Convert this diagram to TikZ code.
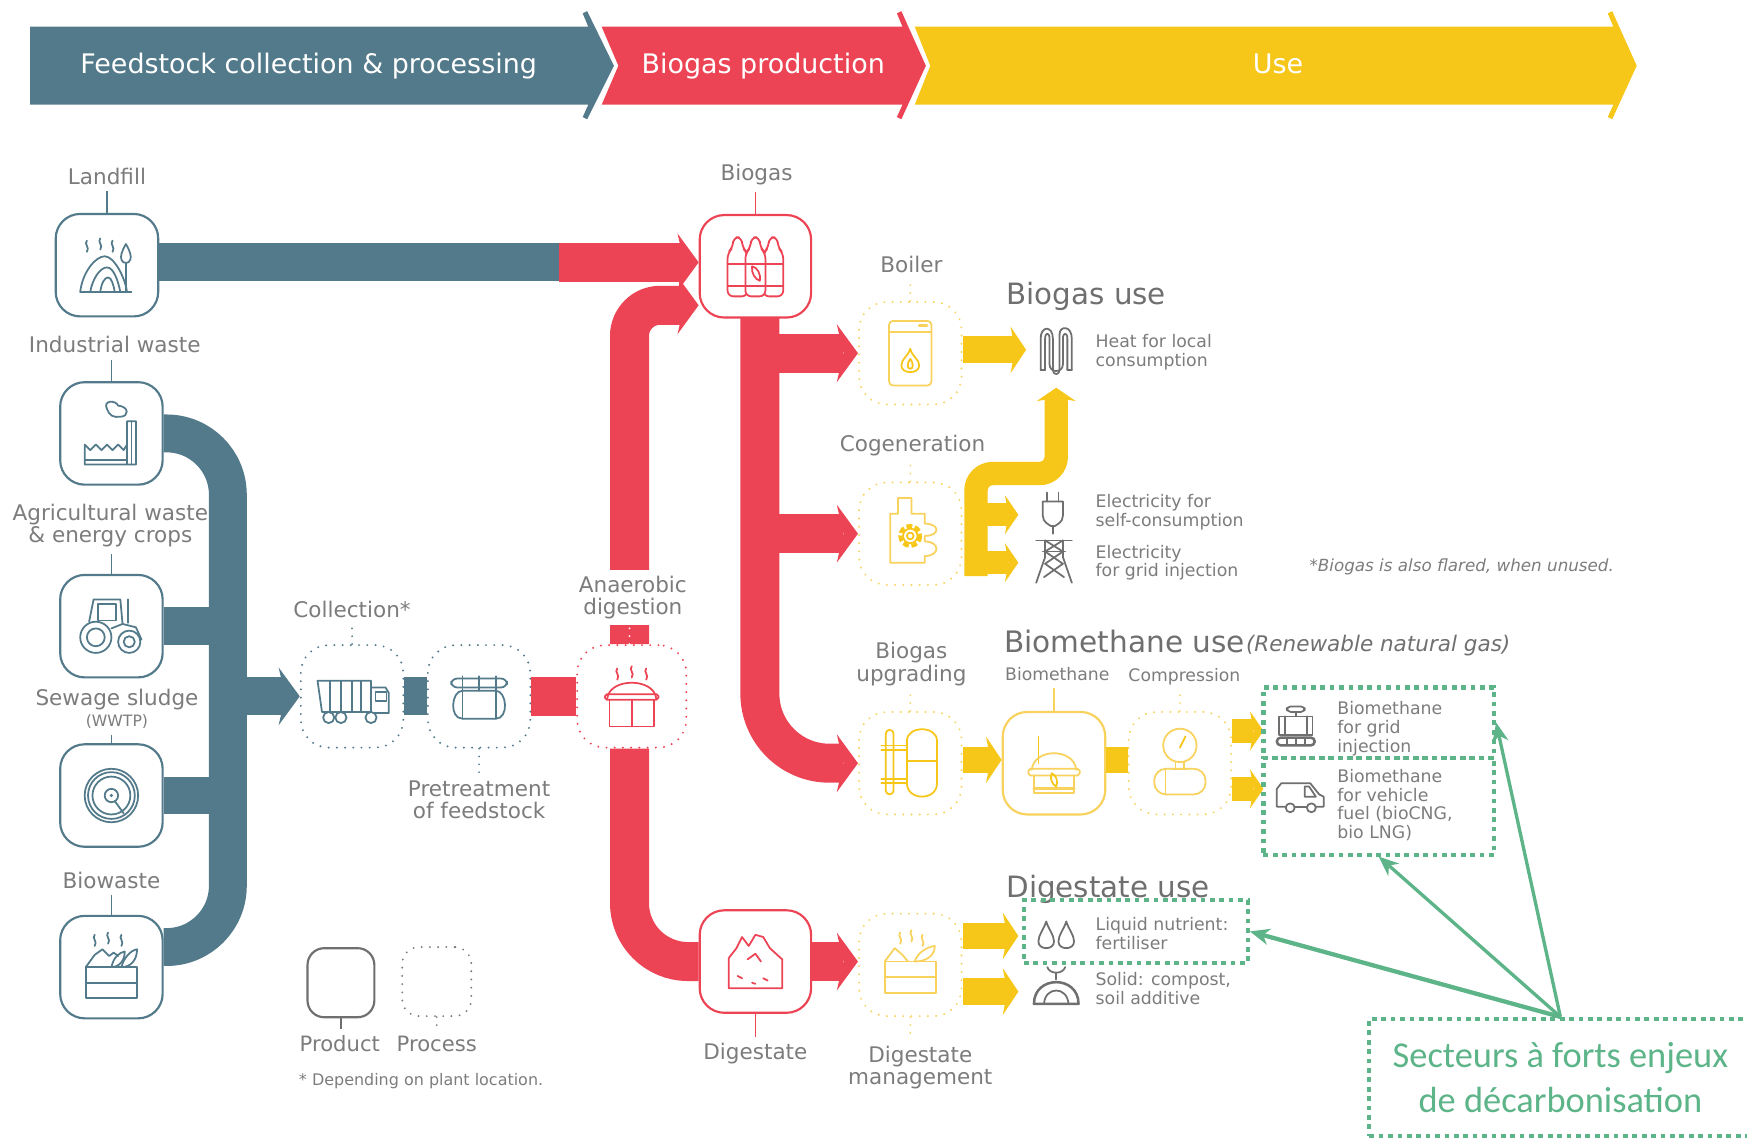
\documentclass[tikz,border=0pt]{standalone}
\usepackage{fontspec}
\setmainfont{DejaVu Sans}
\newfontfamily\targetfont{Carlito}
\usetikzlibrary{arrows.meta}
\definecolor{bandblue}{HTML}{537A8A}
\definecolor{bandred}{HTML}{EC4454}
\definecolor{bandyellow}{HTML}{F6C619}
\definecolor{softyellow}{HTML}{F8D25C}
\definecolor{labelgray}{HTML}{7C7C7C}
\definecolor{icongray}{HTML}{6F6F6F}
\definecolor{targetgreen}{HTML}{5CB488}
\tikzset{
	productbox/.style={draw=#1,fill=white,rounded corners=.44cm,inner sep=0pt,minimum width=1.84cm,minimum height=1.84cm,line width=1.1pt},
	processbox/.style={draw=#1,rounded corners=.5cm,inner sep=0pt,minimum width=1.84cm,minimum height=1.84cm,line width=1.1pt,dash pattern=on 0pt off 4.2pt,line cap=round},
	greenbox/.style={draw=targetgreen,inner sep=0pt,line width=2.1pt,dash pattern=on 2.4pt off 2.4pt},
	sidelabel/.style={labelgray,align=center,font=\fontsize{11}{11.4}\selectfont},
	smalllabel/.style={labelgray,align=center,font=\fontsize{8.8}{9.6}\selectfont},
	usetext/.style={labelgray,anchor=west,align=left,inner sep=0pt,font=\fontsize{8.85}{9.6}\selectfont},
	heading/.style={icongray,anchor=west,inner sep=0pt},
	bannertext/.style={white,font=\fontsize{13.75}{15}\selectfont},
	blueflow/.style={bandblue,line width=.68cm},
	redflow/.style={bandred,line width=.7cm},
	yellowflow/.style={bandyellow,line width=.48cm},
	thinflow/.style={bandyellow,line width=.42cm},
	bighead/.style={-{Stealth[length=.38cm,width=1.04cm,inset=.12cm,line width=0pt]}},
	midhead/.style={-{Stealth[length=.28cm,width=.84cm,inset=.08cm,line width=0pt]}},
	smallhead/.style={-{Stealth[length=.24cm,width=.7cm,inset=.06cm,line width=0pt]}},
	tickline/.style={#1,line width=.8pt},
	tickdots/.style={#1,line width=1pt,dash pattern=on 0pt off 4pt,line cap=round},
	greenarrow/.style={targetgreen,line width=1.7pt,-{Stealth[length=.36cm,width=.3cm,line width=0pt]}},
	iconline/.style={#1,line width=.9pt,line cap=round,line join=round}
}
\def\steam#1#2{\draw (#1,#2) .. controls (#1-3,#2+3) and (#1+3,#2+6) .. (#1,#2+10);}
\def\crate{\draw (-23,0) rectangle (23,28); \draw (-23,14) -- (23,14);}

\begin{document}
\begin{tikzpicture}[x=.02cm,y=-.02cm]
	\clip (0,0) rectangle (1568,1021.4);
	% Top banner
	\fill[bandblue] (27,24) -- (528,24) -- (523,12) -- (527,10) -- (551,59) -- (527,107) -- (523,105) -- (528,94) -- (27,94) -- cycle;
	\fill[bandred] (540,24) -- (810,24) -- (805,12) -- (809,10) -- (831,59) -- (809,107) -- (805,105) -- (810,94) -- (540,94) -- (555,59) -- cycle;
	\fill[bandyellow] (821,24) -- (1448,24) -- (1443,12) -- (1447,10) -- (1469,59) -- (1447,107) -- (1443,105) -- (1448,94) -- (821,94) -- (835,59) -- cycle;
	\node[bannertext] (feedstock) at (277,59) {Feedstock collection \& processing};
	\node[bannertext] (production) at (685,59) {Biogas production};
	\node[bannertext] (usebanner) at (1147,57) {Use};

	% Feedstock boxes
	\node[productbox=bandblue] (landfill) at (96,238) {};
	\node[productbox=bandblue] (industrial) at (100,389) {};
	\node[productbox=bandblue] (agri) at (100,562) {};
	\node[productbox=bandblue] (sewage) at (100,714) {};
	\node[productbox=bandblue] (biowaste) at (100,868) {};
	\node[processbox=bandblue] (collection) at (316,625) {};
	\node[processbox=bandblue] (pretreatment) at (430,625) {};
	\node[processbox=bandred,minimum width=1.96cm] (digestion) at (567,625) {};
	% Products and uses
	\node[productbox=bandred,minimum width=2cm] (biogas) at (678,239) {};
	\node[productbox=bandred,minimum width=2cm] (digestate) at (678,863) {};
	\node[processbox=softyellow] (boiler) at (817,317) {};
	\node[processbox=softyellow] (cogeneration) at (817,479) {};
	\node[processbox=softyellow] (upgrading) at (817,685) {};
	\node[productbox=softyellow] (biomethane) at (946,685) {};
	\node[processbox=softyellow] (compression) at (1059,685) {};
	\node[processbox=softyellow] (management) at (817,866) {};
	% Legend
	\node[productbox=icongray,minimum width=1.2cm,minimum height=1.24cm,rounded corners=.3cm] (productkey) at (306,882) {};
	\node[processbox=labelgray,minimum width=1.24cm,minimum height=1.24cm,rounded corners=.3cm] (processkey) at (392,881) {};

	% Free ends of the flows
	\coordinate (swap) at (502,235.5);
	\coordinate (bluetrunk) at (204.5,625);
	\coordinate (redtrunk) at (682,285);
	\coordinate (cogenbus) at (876,517);
	\coordinate (coilin) at (921,314);
	\coordinate (coilup) at (948,348);
	\coordinate (plugin) at (914,462);
	\coordinate (towerin) at (914,505);
	\coordinate (upgradeline) at (899,682);
	\coordinate (gridin) at (1134,656);
	\coordinate (vanin) at (1134,708);
	\coordinate (dropsin) at (914,840);
	\coordinate (bagin) at (914,890);

	% Blue flows
	\draw[blueflow] (landfill.east |- swap) -- (swap);
	\draw[blueflow,rounded corners=1.1cm] (industrial.east) -| (bluetrunk) |- ([yshift=.36cm]biowaste.east);
	\draw[blueflow] (agri.east) -- (agri.east -| bluetrunk);
	\draw[blueflow] (sewage.east) -- (sewage.east -| bluetrunk);
	\draw[blueflow,bighead] (bluetrunk) -- (collection.west);
	\draw[blueflow] (collection.east) -- (pretreatment.west);
	% Red flows
	\draw[redflow] (pretreatment.east) -- (digestion.west);
	\draw[redflow,bighead] (swap) -- (biogas.west |- swap);
	\draw[redflow,bighead,rounded corners=.55cm] ([xshift=-.04cm]digestion.north) |- ([yshift=-.7cm]biogas.west);
	\draw[redflow,rounded corners=1.05cm] ([xshift=-.04cm]digestion.south) |- (digestate.west);
	\draw[redflow,bighead,rounded corners=1.25cm] (redtrunk) |- (upgrading.west);
	\draw[redflow,bighead] (redtrunk |- boiler.west) -- (boiler.west);
	\draw[redflow,bighead] (redtrunk |- cogeneration.west) -- (cogeneration.west);
	\draw[redflow,bighead] (digestate.east) -- (management.west |- digestate.east);
	% Yellow flows
	\draw[yellowflow,midhead] (boiler.east |- coilin) -- (coilin);
	\draw[thinflow,smallhead,rounded corners=.3cm] (cogenbus) |- (coilup |- 0,425) -- (coilup);
	\draw[thinflow,smallhead] (cogenbus |- plugin) -- (plugin);
	\draw[thinflow,smallhead] (cogenbus |- towerin) -- (towerin);
	\draw[yellowflow,midhead] (upgrading.east |- upgradeline) -- (upgradeline);
	\draw[yellowflow] (biomethane.east |- upgradeline) -- (compression.west |- upgradeline);
	\draw[thinflow,smallhead] (compression.east |- gridin) -- (gridin);
	\draw[thinflow,smallhead] (compression.east |- vanin) -- (vanin);
	\draw[yellowflow,midhead] (management.east |- dropsin) -- (dropsin);
	\draw[yellowflow,midhead] (management.east |- bagin) -- (bagin);

	% Labels
	\node[sidelabel] (landfilllabel) at (96,158) {Landfill};
	\node[sidelabel] (industriallabel) at (103,309) {Industrial waste};
	\node[sidelabel] (agrilabel) at (99,472) {Agricultural waste\\\& energy crops};
	\node[sidelabel] (sewagelabel) at (105,636) {Sewage sludge\\[-.8pt]{\fontsize{8}{9}\selectfont (WWTP)}};
	\node[sidelabel] (biowastelabel) at (100,790) {Biowaste};
	\node[sidelabel] (collectionlabel) at (316,547) {Collection*};
	\node[sidelabel] (pretreatmentlabel) at (430,718) {Pretreatment\\of feedstock};
	\node[sidelabel,fill=white,inner sep=0pt,minimum height=.98cm] (digestionlabel) at (568,536.5) {Anaerobic\\digestion};
	\node[sidelabel] (biogaslabel) at (679,157) {Biogas};
	\node[sidelabel] (digestatelabel) at (678,946) {Digestate};
	\node[sidelabel] (boilerlabel) at (818,237) {Boiler};
	\node[sidelabel] (cogenerationlabel) at (819,400) {Cogeneration};
	\node[sidelabel] (upgradinglabel) at (818,596) {Biogas\\upgrading};
	\node[sidelabel] (managementlabel) at (826,958) {Digestate\\management};
	\node[smalllabel] (biomethanelabel) at (949,605) {Biomethane};
	\node[smalllabel] (compressionlabel) at (1063,607) {Compression};
	\node[sidelabel,font=\fontsize{10.8}{12}\selectfont] (productlabel) at (305,937) {Product};
	\node[sidelabel,font=\fontsize{10.8}{12}\selectfont] (processlabel) at (392,937) {Process};
	\node[labelgray,anchor=west,inner sep=0pt,font=\fontsize{8.15}{9}\selectfont] (plantnote) at (268,970) {* Depending on plant location.};
	\node[labelgray,anchor=west,inner sep=0pt,font=\fontsize{8.55}{10}\selectfont\itshape] (flarenote) at (1175,509) {*Biogas is also flared, when unused.};
	\node[heading,font=\fontsize{15}{16}\selectfont] (biogasuse) at (903,266) {Biogas use};
	\node[heading,font=\fontsize{15.1}{16}\selectfont] (biomethaneuse) at (901,576) {Biomethane use};
	\node[heading,font=\fontsize{11}{12}\selectfont\itshape] (renewable) at (1118,579) {(Renewable natural gas)};
	\node[heading,font=\fontsize{15}{16}\selectfont] (digestateuse) at (903,798) {Digestate use};
	\node[usetext] (heatuse) at (983,316) {Heat for local\\consumption};
	\node[usetext] (selfuse) at (983,460) {Electricity for\\self-consumption};
	\node[usetext] (griduse) at (983,505) {Electricity\\for grid injection};
	\node[usetext] (gridgas) at (1200,654) {Biomethane\\for grid\\injection};
	\node[usetext] (vehiclegas) at (1200,722.5) {Biomethane\\for vehicle\\fuel (bioCNG,\\bio LNG)};
	\node[usetext] (liquiduse) at (983,838) {Liquid nutrient:\\fertiliser};
	\node[usetext] (soliduse) at (983,887) {Solid: compost,\\soil additive};

	% Label ticks
	\draw[tickline=bandblue] (landfill.north) -- (landfill.north |- landfilllabel.south);
	\draw[tickline=bandblue] (industrial.north) -- (industrial.north |- industriallabel.south);
	\draw[tickline=bandblue] (agri.north) -- (agri.north |- agrilabel.south);
	\draw[tickline=bandblue] (sewage.north) -- (sewage.north |- sewagelabel.south);
	\draw[tickline=bandblue] (biowaste.north) -- (biowaste.north |- biowastelabel.south);
	\draw[tickline=bandred] (biogas.north) -- (biogas.north |- biogaslabel.south);
	\draw[tickline=bandred] (digestate.south) -- (digestate.south |- digestatelabel.north);
	\draw[tickline=softyellow] (biomethane.north) -- (biomethane.north |- biomethanelabel.south);
	\draw[tickline=icongray] (productkey.south) -- (productkey.south |- productlabel.north);
	\draw[tickdots=bandblue] (collection.north) -- (collection.north |- collectionlabel.south);
	\draw[tickdots=bandblue] (pretreatment.south) -- (pretreatment.south |- pretreatmentlabel.north);
	\draw[tickdots=white] ([xshift=-.04cm]digestion.north) -- ([xshift=-.04cm]digestion.north |- digestionlabel.south);
	\draw[tickdots=softyellow] (boiler.north) -- (boiler.north |- boilerlabel.south);
	\draw[tickdots=softyellow] (cogeneration.north) -- (cogeneration.north |- cogenerationlabel.south);
	\draw[tickdots=softyellow] (upgrading.north) -- (upgrading.north |- upgradinglabel.south);
	\draw[tickdots=softyellow] (compression.north) -- (compression.north |- compressionlabel.south);
	\draw[tickdots=softyellow] (management.south) -- (management.south |- managementlabel.north);
	\draw[tickdots=labelgray] (processkey.south) -- (processkey.south |- processlabel.north);

	% Landfill icon
	\begin{scope}[iconline=bandblue,shift={(96,238)}]
		\draw (-24,24) -- (22,24);
		\draw (-24,24) .. controls (-22,6) and (-10,-8) .. (-2,-8) .. controls (6,-8) and (16,10) .. (18,24);
		\draw (-15,24) .. controls (-13,12) and (-6,2) .. (0,2) .. controls (6,2) and (10,14) .. (12,24);
		\draw (-6,24) .. controls (-5,16) and (-2,11) .. (1,11) .. controls (4,11) and (6,18) .. (7,24);
		\draw (17,-19) .. controls (13,-12) and (12,-8) .. (13,-5) .. controls (14,-1) and (20,-1) .. (21,-5) .. controls (22,-8) and (21,-12) .. (17,-19);
		\draw (17,-2) -- (17,24);
		\steam{-18}{-22} \steam{-6}{-24} \steam{5}{-22}
	\end{scope}
	% Factory icon
	\begin{scope}[iconline=bandblue,shift={(100,389)}]
		\draw (-4,-22) .. controls (-8,-30) and (4,-30) .. (6,-25) .. controls (16,-24) and (16,-15) .. (8,-15) .. controls (2,-14) and (-2,-16) .. (-4,-22);
		\draw (14,28) -- (14,-11) -- (22,-11) -- (22,28) -- (-24,28) -- (-24,10) -- (-19,15) -- (-14,10) -- (-9,15) -- (-4,10) -- (1,15) -- (6,10) -- (11,15) -- (14,10);
		\draw (18,-11) -- (18,28);
		\draw (-24,24) -- (14,24);
	\end{scope}
	% Tractor icon
	\begin{scope}[iconline=bandblue,shift={(100,562)}]
		\draw (-14,10) circle (14); \draw (-14,10) circle (8);
		\draw (16,14) circle (10); \draw (16,14) circle (5);
		\draw (-20,-4) -- (-16,-24) -- (8,-24) -- (10,-2);
		\draw (-12,-20) -- (-12,-5) -- (4,-5) -- (4,-20) -- cycle;
		\draw (0,2) -- (10,-2) -- (22,1) -- (27,12);
		\draw (15,-24) -- (15,-3);
	\end{scope}
	% Sludge icon
	\begin{scope}[iconline=bandblue,shift={(100,714)}]
		\draw (0,0) circle (24); \draw (0,0) circle (21); \draw (0,0) circle (17);
		\draw (0,0) circle (6); \fill (0,0) circle (1.6);
		\draw (3,5) -- (11,16);
	\end{scope}
	% Biowaste icon
	\begin{scope}[iconline=bandblue,shift={(100,868)}]
		\draw (-23,0) -- (-15,-11) -- (-8,-16) -- (-2,-10) -- (2,-13) -- (6,-10);
		\draw (0,0) .. controls (2,-9) and (7,-13) .. (12,-14) .. controls (12,-6) and (7,0) .. (0,0);
		\draw (9,0) .. controls (11,-8) and (17,-15) .. (23,-16) .. controls (23,-7) and (18,0) .. (9,0);
		\steam{-15}{-29} \steam{-3}{-31} \steam{9}{-29}
		\crate
	\end{scope}
	% Truck icon
	\begin{scope}[iconline=bandblue,shift={(316,626)}]
		\draw (-31,-15) -- (17,-15) -- (17,13) -- (-27,13) -- cycle;
		\foreach \xline in {-20,-10,0,8} \draw (\xline,-15) -- (\xline,13);
		\draw (17,-9) -- (30,-9) -- (33,-4) -- (33,14) -- (17,14);
		\draw (21,-5) -- (31,-5) -- (31,3) -- (21,3) -- cycle;
		\draw[fill=white] (-21,18) circle (5); \draw[fill=white] (-10,18) circle (5); \draw[fill=white] (17,18) circle (5);
	\end{scope}
	% Pretreatment tank icon
	\begin{scope}[iconline=bandblue,shift={(430,626)}]
		\draw[rounded corners=3pt] (-25,-17) rectangle (25,-9);
		\foreach \xline in {-15,0,15} \draw (\xline,-19) -- (\xline,-6);
		\draw (-15,-6) -- (15,-6) .. controls (25,-6) and (27,19) .. (15,19) -- (-15,19) .. controls (-27,19) and (-25,-6) .. (-15,-6);
		\draw (-15,-6) -- (-15,19); \draw (15,-6) -- (15,19);
	\end{scope}
	% Digester icon
	\begin{scope}[iconline=bandred,shift={(567,624)}]
		\draw (-22,3) .. controls (-20,-16) and (20,-16) .. (22,3);
		\draw[rounded corners=1pt] (-24,-1) rectangle (24,4);
		\draw (-20,4) -- (-20,28) -- (20,28) -- (20,4);
		\draw (0,4) -- (0,28);
		\steam{-13}{-24} \steam{0}{-26} \steam{13}{-24}
	\end{scope}
	% Gas bottles icon
	\begin{scope}[iconline=bandred,shift={(678,239)}]
		\foreach \xbottle in {-16,16,0}
			{\draw[fill=white,rounded corners=3pt] (\xbottle-9,-12) -- (\xbottle-4,-17) -- (\xbottle-4,-26) -- (\xbottle+4,-26) -- (\xbottle+4,-17) -- (\xbottle+9,-12) -- (\xbottle+9,27) -- (\xbottle-9,27) -- cycle;
			\draw (\xbottle-9,-2) -- (\xbottle+9,-2); \draw (\xbottle-9,18) -- (\xbottle+9,18);}
		\draw (-3,0) .. controls (-4,6) and (0,12) .. (4,13) .. controls (5,7) and (2,1) .. (-3,0);
	\end{scope}
	% Boiler icon
	\begin{scope}[iconline=softyellow,shift={(817,317)}]
		\draw[rounded corners=2pt] (-19,-29) rectangle (19,29);
		\draw (-19,-19) -- (19,-19);
		\draw[line width=1.4pt] (8,-25) -- (15,-25);
		\draw[bandyellow] (0,-4) .. controls (-2,3) and (-8,5) .. (-8,11) .. controls (-8,19) and (8,19) .. (8,11) .. controls (8,5) and (2,4) .. (0,-4);
		\draw[bandyellow] (0,5) .. controls (-3,9) and (-3,14) .. (0,14) .. controls (3,14) and (3,9) .. (0,5);
	\end{scope}
	% Cogeneration icon
	\begin{scope}[iconline=softyellow,shift={(817,479)}]
		\draw (-18,-18) -- (-11,-18) -- (-11,-32) -- (1,-32) -- (1,-18) -- (13,-18) -- (13,-9) .. controls (27,-9) and (27,2) .. (13,2) -- (13,7) .. controls (27,7) and (27,20) .. (13,20) -- (13,26) -- (-18,26) -- cycle;
		\draw[bandyellow,dash pattern=on 3pt off 1.4pt,line width=2pt,line cap=butt] (0,2) circle (9);
		\draw[bandyellow] (0,2) circle (6.5); \draw[bandyellow] (0,2) circle (3);
	\end{scope}
	% Upgrading icon
	\begin{scope}[iconline=bandyellow,shift={(817,685)}]
		\draw[rounded corners=2pt] (-22,-30) rectangle (-15,28);
		\draw (-26,-16) -- (-3,-16); \draw (-26,-12) -- (-3,-12);
		\draw (-26,14) -- (-3,14); \draw (-26,18) -- (-3,18);
		\draw (-3,-16) -- (-3,-20) .. controls (-3,-34) and (24,-34) .. (24,-20) -- (24,18) .. controls (24,34) and (-3,34) .. (-3,18) -- cycle;
		\draw (-3,-2) -- (24,-2);
	\end{scope}
	% Biomethane icon
	\begin{scope}[iconline=softyellow,shift={(946,695)}]
		\draw[bandyellow] (-14,-34) -- (-14,-10);
		\draw (-20,-4) .. controls (-18,-24) and (18,-24) .. (20,-4);
		\draw[rounded corners=1pt] (-23,-5) rectangle (23,1);
		\draw (-18,1) -- (-18,17) -- (18,17) -- (18,1);
		\draw[line width=1.6pt] (-18,13) -- (18,13);
		\draw[bandyellow] (-2,-1) .. controls (-4,3) and (-2,9) .. (2,11) .. controls (4,6) and (2,1) .. (-2,-1);
	\end{scope}
	% Compression icon
	\begin{scope}[iconline=softyellow,shift={(1059,685)}]
		\draw (0,-16) circle (15);
		\draw[bandyellow] (0,-14) -- (5,-24);
		\draw (-4,-1) -- (-4,5); \draw (4,-1) -- (4,5);
		\draw[rounded corners=6pt] (-23,5) rectangle (23,28);
		\draw (-13,5) -- (-13,28); \draw (-6,5) -- (6,5);
	\end{scope}
	% Digestate heap icon
	\begin{scope}[iconline=bandred,shift={(678,863)}]
		\draw (-24,24) -- (-24,-3) -- (-17,-12) -- (-12,-22) -- (-6,-14) -- (0,-24) -- (7,-22) -- (13,-12) -- (24,-2) -- (24,24) -- cycle;
		\draw (-7,-2) -- (0,-7) -- (5,0); \draw (-16,13) -- (-12,15); \draw (7,15) -- (11,17); \draw (-3,19) -- (0,20);
	\end{scope}
	% Digestate management icon
	\begin{scope}[iconline=softyellow,shift={(817,866)}]
		\draw (-23,-3) -- (-14,-15) -- (-7,-9) -- (-2,-3);
		\draw (4,-3) .. controls (6,-10) and (14,-16) .. (22,-17) .. controls (22,-8) and (14,-3) .. (4,-3);
		\steam{-9}{-29} \steam{1}{-31} \steam{11}{-27}
		\begin{scope}[shift={(0,-3)}] \crate \end{scope}
	\end{scope}
	% Gray use icons
	\begin{scope}[iconline=icongray,shift={(948,314)}]
		\draw (-14,18) -- (-14,-10) .. controls (-14,-22) and (-3,-22) .. (-3,-10) -- (-3,18);
		\draw (3,-14) .. controls (3,-22) and (14,-22) .. (14,-10) -- (14,18);
		\draw (-10,18) -- (-10,-10) .. controls (-10,-16) and (-6,-16) .. (-6,-10) -- (-6,13) .. controls (-6,21) and (6,21) .. (6,13) -- (6,-10) .. controls (6,-16) and (10,-16) .. (10,-10) -- (10,18);
		\draw (-14,18) -- (-10,18); \draw (10,18) -- (14,18); \draw (-3,13) -- (-3,18) .. controls (-3,23) and (3,23) .. (3,18) -- (3,-14);
	\end{scope}
	\begin{scope}[iconline=icongray,shift={(945,459)}]
		\draw (-5,-17) -- (-5,-9); \draw (5,-17) -- (5,-9);
		\draw (-9,-9) -- (9,-9) -- (9,4) .. controls (9,10) and (3,12) .. (2,13) -- (-2,13) .. controls (-3,12) and (-9,10) .. (-9,4) -- cycle;
		\draw (0,13) -- (0,20);
	\end{scope}
	\begin{scope}[iconline=icongray,shift={(946,504)}]
		\draw (-16,-19) -- (16,-19); \draw (-10,-9) -- (10,-9);
		\draw (-8,-19) -- (-8,-4) -- (-16,19); \draw (8,-19) -- (8,-4) -- (16,19);
		\draw (-8,-19) -- (8,-9) -- (-8,2) -- (9,14); \draw (8,-19) -- (-8,-9) -- (8,2) -- (-9,14);
	\end{scope}
	\begin{scope}[iconline=icongray,shift={(1163,651)}]
		\draw[rounded corners=2pt] (-8,-17) rectangle (8,-12);
		\draw (0,-12) -- (0,-8);
		\draw (-15,-8) -- (15,-8) -- (15,9) -- (-15,9) -- cycle;
		\draw (-10,-8) -- (-10,9); \draw (10,-8) -- (10,9);
		\draw[rounded corners=2pt,line width=1.3pt] (-17,11) rectangle (17,18);
		\foreach \xline in {-8,0,8} \draw (\xline,11) -- (\xline,18);
	\end{scope}
	\begin{scope}[iconline=icongray,shift={(1166,713)}]
		\draw (-12,11) -- (-20,11) -- (-20,-5) -- (-16,-10) -- (10,-10) -- (18,0) -- (22,2) -- (22,11) -- (15,11);
		\draw (-4,11) -- (7,11);
		\draw (5,-7) -- (5,2) -- (15,2) -- (9,-7) -- cycle;
		\draw (-8,12) circle (4); \draw (11,12) circle (4);
	\end{scope}
	\begin{scope}[iconline=icongray,shift={(948,840)}]
		\foreach \xdrop in {-9,9}
			\draw (\xdrop,-13) .. controls (\xdrop-2,-6) and (\xdrop-7,-1) .. (\xdrop-7,5) .. controls (\xdrop-7,13) and (\xdrop+7,13) .. (\xdrop+7,5) .. controls (\xdrop+7,-1) and (\xdrop+2,-6) .. (\xdrop,-13);
	\end{scope}
	\begin{scope}[iconline=icongray,shift={(948,885)}]
		\draw[line width=1.3pt] (-20,16) .. controls (-20,-10) and (20,-10) .. (20,16) -- cycle;
		\draw (-11,16) .. controls (-10,0) and (10,0) .. (11,16);
		\draw (0,-6) -- (0,-12);
		\draw (0,-12) .. controls (-4,-12) and (-7,-14) .. (-8,-17); \draw (0,-12) .. controls (4,-12) and (7,-14) .. (8,-17);
	\end{scope}

	% Highlighted sectors
	\node[greenbox,minimum width=4.14cm,minimum height=1.26cm] (gridbox) at (1237.5,648.5) {};
	\node[greenbox,minimum width=4.14cm,minimum height=1.74cm] (vehiclebox) at (1237.5,723.5) {};
	\node[greenbox,minimum width=4.02cm,minimum height=1.12cm] (liquidbox) at (1019.5,836) {};
	\node[greenbox,align=center,minimum width=6.86cm,minimum height=2.1cm,font=\targetfont\fontsize{18.6}{23}\selectfont,text=targetgreen] (target) at (1400.5,967) {Secteurs à forts enjeux\\de décarbonisation};
	\draw[greenarrow] (target.north) -- (gridbox.east);
	\draw[greenarrow] (target.north) -- (vehiclebox.south);
	\draw[greenarrow,line width=2.2pt] (target.north) -- (liquidbox.east);
\end{tikzpicture}
\end{document}
